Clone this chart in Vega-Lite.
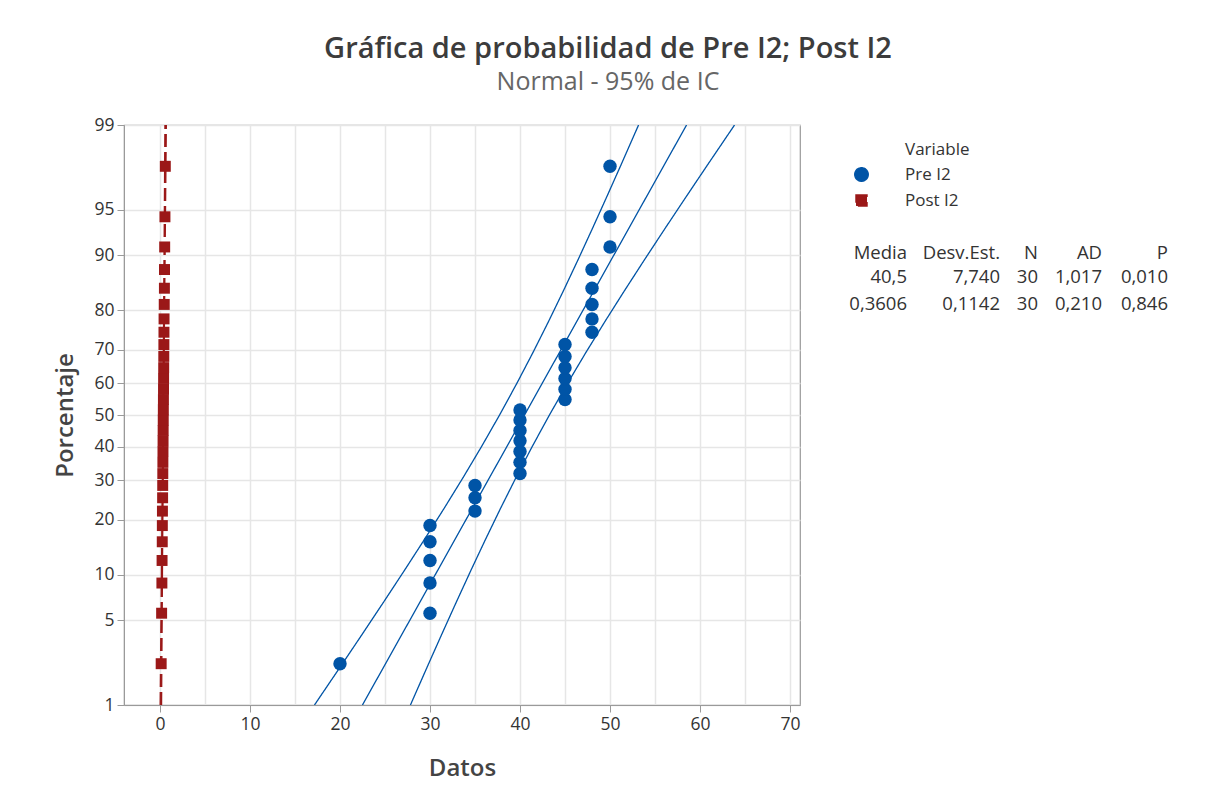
{
  "$schema": "https://vega.github.io/schema/vega-lite/v6.json",
  "autosize": "none",
  "width": 676,
  "height": 580,
  "padding": {"left": 124, "top": 125, "right": 405, "bottom": 97},
  "background": "white",
  "title": {
    "text": "Gráfica de probabilidad de Pre I2; Post I2",
    "subtitle": "Normal - 95% de IC",
    "anchor": "middle",
    "frame": "group",
    "dx": 146,
    "offset": 21,
    "font": "Open Sans",
    "fontSize": 29,
    "fontWeight": 600,
    "color": "#3c3c3c",
    "subtitleFont": "Open Sans",
    "subtitleFontSize": 25,
    "subtitleColor": "#666666",
    "subtitlePadding": 6
  },
  "datasets": {
    "pts": [
      {"Variable": "Pre I2", "Datos": 20, "Z": -1.995},
      {"Variable": "Pre I2", "Datos": 30, "Z": -1.590},
      {"Variable": "Pre I2", "Datos": 30, "Z": -1.348},
      {"Variable": "Pre I2", "Datos": 30, "Z": -1.167},
      {"Variable": "Pre I2", "Datos": 30, "Z": -1.017},
      {"Variable": "Pre I2", "Datos": 30, "Z": -0.887},
      {"Variable": "Pre I2", "Datos": 35, "Z": -0.771},
      {"Variable": "Pre I2", "Datos": 35, "Z": -0.664},
      {"Variable": "Pre I2", "Datos": 35, "Z": -0.565},
      {"Variable": "Pre I2", "Datos": 40, "Z": -0.470},
      {"Variable": "Pre I2", "Datos": 40, "Z": -0.380},
      {"Variable": "Pre I2", "Datos": 40, "Z": -0.293},
      {"Variable": "Pre I2", "Datos": 40, "Z": -0.207},
      {"Variable": "Pre I2", "Datos": 40, "Z": -0.124},
      {"Variable": "Pre I2", "Datos": 40, "Z": -0.041},
      {"Variable": "Pre I2", "Datos": 40, "Z": 0.041},
      {"Variable": "Pre I2", "Datos": 45, "Z": 0.124},
      {"Variable": "Pre I2", "Datos": 45, "Z": 0.207},
      {"Variable": "Pre I2", "Datos": 45, "Z": 0.293},
      {"Variable": "Pre I2", "Datos": 45, "Z": 0.380},
      {"Variable": "Pre I2", "Datos": 45, "Z": 0.470},
      {"Variable": "Pre I2", "Datos": 45, "Z": 0.565},
      {"Variable": "Pre I2", "Datos": 48, "Z": 0.664},
      {"Variable": "Pre I2", "Datos": 48, "Z": 0.771},
      {"Variable": "Pre I2", "Datos": 48, "Z": 0.887},
      {"Variable": "Pre I2", "Datos": 48, "Z": 1.017},
      {"Variable": "Pre I2", "Datos": 48, "Z": 1.167},
      {"Variable": "Pre I2", "Datos": 50, "Z": 1.348},
      {"Variable": "Pre I2", "Datos": 50, "Z": 1.590},
      {"Variable": "Pre I2", "Datos": 50, "Z": 1.995},
      {"Variable": "Post I2", "Datos": 0.13, "Z": -1.995},
      {"Variable": "Post I2", "Datos": 0.18, "Z": -1.590},
      {"Variable": "Post I2", "Datos": 0.21, "Z": -1.348},
      {"Variable": "Post I2", "Datos": 0.23, "Z": -1.167},
      {"Variable": "Post I2", "Datos": 0.25, "Z": -1.017},
      {"Variable": "Post I2", "Datos": 0.26, "Z": -0.887},
      {"Variable": "Post I2", "Datos": 0.27, "Z": -0.771},
      {"Variable": "Post I2", "Datos": 0.29, "Z": -0.664},
      {"Variable": "Post I2", "Datos": 0.30, "Z": -0.565},
      {"Variable": "Post I2", "Datos": 0.31, "Z": -0.470},
      {"Variable": "Post I2", "Datos": 0.32, "Z": -0.380},
      {"Variable": "Post I2", "Datos": 0.33, "Z": -0.293},
      {"Variable": "Post I2", "Datos": 0.34, "Z": -0.207},
      {"Variable": "Post I2", "Datos": 0.35, "Z": -0.124},
      {"Variable": "Post I2", "Datos": 0.36, "Z": -0.041},
      {"Variable": "Post I2", "Datos": 0.37, "Z": 0.041},
      {"Variable": "Post I2", "Datos": 0.38, "Z": 0.124},
      {"Variable": "Post I2", "Datos": 0.39, "Z": 0.207},
      {"Variable": "Post I2", "Datos": 0.40, "Z": 0.293},
      {"Variable": "Post I2", "Datos": 0.41, "Z": 0.380},
      {"Variable": "Post I2", "Datos": 0.42, "Z": 0.470},
      {"Variable": "Post I2", "Datos": 0.43, "Z": 0.565},
      {"Variable": "Post I2", "Datos": 0.44, "Z": 0.664},
      {"Variable": "Post I2", "Datos": 0.45, "Z": 0.771},
      {"Variable": "Post I2", "Datos": 0.47, "Z": 0.887},
      {"Variable": "Post I2", "Datos": 0.49, "Z": 1.017},
      {"Variable": "Post I2", "Datos": 0.50, "Z": 1.167},
      {"Variable": "Post I2", "Datos": 0.52, "Z": 1.348},
      {"Variable": "Post I2", "Datos": 0.55, "Z": 1.590},
      {"Variable": "Post I2", "Datos": 0.59, "Z": 1.995}
    ],
    "fit": [
      {"Variable": "Pre I2", "Curva": "ajuste", "Datos": 22.494, "Z": -2.3263},
      {"Variable": "Pre I2", "Curva": "ajuste", "Datos": 40.5, "Z": 0},
      {"Variable": "Pre I2", "Curva": "ajuste", "Datos": 58.506, "Z": 2.3263},
      {"Variable": "Pre I2", "Curva": "inf", "Datos": 17.163, "Z": -2.3263},
      {"Variable": "Pre I2", "Curva": "inf", "Datos": 20.223, "Z": -2},
      {"Variable": "Pre I2", "Curva": "inf", "Datos": 22.548, "Z": -1.75},
      {"Variable": "Pre I2", "Curva": "inf", "Datos": 24.852, "Z": -1.5},
      {"Variable": "Pre I2", "Curva": "inf", "Datos": 27.128, "Z": -1.25},
      {"Variable": "Pre I2", "Curva": "inf", "Datos": 29.368, "Z": -1},
      {"Variable": "Pre I2", "Curva": "inf", "Datos": 31.560, "Z": -0.75},
      {"Variable": "Pre I2", "Curva": "inf", "Datos": 33.692, "Z": -0.5},
      {"Variable": "Pre I2", "Curva": "inf", "Datos": 35.752, "Z": -0.25},
      {"Variable": "Pre I2", "Curva": "inf", "Datos": 37.730, "Z": 0},
      {"Variable": "Pre I2", "Curva": "inf", "Datos": 39.622, "Z": 0.25},
      {"Variable": "Pre I2", "Curva": "inf", "Datos": 41.432, "Z": 0.5},
      {"Variable": "Pre I2", "Curva": "inf", "Datos": 43.170, "Z": 0.75},
      {"Variable": "Pre I2", "Curva": "inf", "Datos": 44.848, "Z": 1},
      {"Variable": "Pre I2", "Curva": "inf", "Datos": 46.478, "Z": 1.25},
      {"Variable": "Pre I2", "Curva": "inf", "Datos": 48.072, "Z": 1.5},
      {"Variable": "Pre I2", "Curva": "inf", "Datos": 49.638, "Z": 1.75},
      {"Variable": "Pre I2", "Curva": "inf", "Datos": 51.183, "Z": 2},
      {"Variable": "Pre I2", "Curva": "inf", "Datos": 53.174, "Z": 2.3263},
      {"Variable": "Pre I2", "Curva": "sup", "Datos": 27.826, "Z": -2.3263},
      {"Variable": "Pre I2", "Curva": "sup", "Datos": 29.817, "Z": -2},
      {"Variable": "Pre I2", "Curva": "sup", "Datos": 31.362, "Z": -1.75},
      {"Variable": "Pre I2", "Curva": "sup", "Datos": 32.928, "Z": -1.5},
      {"Variable": "Pre I2", "Curva": "sup", "Datos": 34.522, "Z": -1.25},
      {"Variable": "Pre I2", "Curva": "sup", "Datos": 36.152, "Z": -1},
      {"Variable": "Pre I2", "Curva": "sup", "Datos": 37.830, "Z": -0.75},
      {"Variable": "Pre I2", "Curva": "sup", "Datos": 39.568, "Z": -0.5},
      {"Variable": "Pre I2", "Curva": "sup", "Datos": 41.378, "Z": -0.25},
      {"Variable": "Pre I2", "Curva": "sup", "Datos": 43.270, "Z": 0},
      {"Variable": "Pre I2", "Curva": "sup", "Datos": 45.248, "Z": 0.25},
      {"Variable": "Pre I2", "Curva": "sup", "Datos": 47.308, "Z": 0.5},
      {"Variable": "Pre I2", "Curva": "sup", "Datos": 49.440, "Z": 0.75},
      {"Variable": "Pre I2", "Curva": "sup", "Datos": 51.632, "Z": 1},
      {"Variable": "Pre I2", "Curva": "sup", "Datos": 53.872, "Z": 1.25},
      {"Variable": "Pre I2", "Curva": "sup", "Datos": 56.148, "Z": 1.5},
      {"Variable": "Pre I2", "Curva": "sup", "Datos": 58.452, "Z": 1.75},
      {"Variable": "Pre I2", "Curva": "sup", "Datos": 60.777, "Z": 2},
      {"Variable": "Pre I2", "Curva": "sup", "Datos": 63.838, "Z": 2.3263},
      {"Variable": "Post I2", "Curva": "ajuste", "Datos": 0.0949, "Z": -2.3263},
      {"Variable": "Post I2", "Curva": "ajuste", "Datos": 0.3606, "Z": 0},
      {"Variable": "Post I2", "Curva": "ajuste", "Datos": 0.6263, "Z": 2.3263},
      {"Variable": "Post I2", "Curva": "inf", "Datos": 0.0163, "Z": -2.3263},
      {"Variable": "Post I2", "Curva": "inf", "Datos": 0.1964, "Z": -1},
      {"Variable": "Post I2", "Curva": "inf", "Datos": 0.3197, "Z": 0},
      {"Variable": "Post I2", "Curva": "inf", "Datos": 0.4248, "Z": 1},
      {"Variable": "Post I2", "Curva": "inf", "Datos": 0.5476, "Z": 2.3263},
      {"Variable": "Post I2", "Curva": "sup", "Datos": 0.1736, "Z": -2.3263},
      {"Variable": "Post I2", "Curva": "sup", "Datos": 0.2965, "Z": -1},
      {"Variable": "Post I2", "Curva": "sup", "Datos": 0.4015, "Z": 0},
      {"Variable": "Post I2", "Curva": "sup", "Datos": 0.5249, "Z": 1},
      {"Variable": "Post I2", "Curva": "sup", "Datos": 0.7049, "Z": 2.3263}
    ],
    "stats": [
      {"fila": 0, "col": 0, "texto": "Media"},
      {"fila": 0, "col": 1, "texto": "Desv.Est."},
      {"fila": 0, "col": 2, "texto": "N"},
      {"fila": 0, "col": 3, "texto": "AD"},
      {"fila": 0, "col": 4, "texto": "P"},
      {"fila": 1, "col": 0, "texto": "40,5"},
      {"fila": 1, "col": 1, "texto": "7,740"},
      {"fila": 1, "col": 2, "texto": "30"},
      {"fila": 1, "col": 3, "texto": "1,017"},
      {"fila": 1, "col": 4, "texto": "0,010"},
      {"fila": 2, "col": 0, "texto": "0,3606"},
      {"fila": 2, "col": 1, "texto": "0,1142"},
      {"fila": 2, "col": 2, "texto": "30"},
      {"fila": 2, "col": 3, "texto": "0,210"},
      {"fila": 2, "col": 4, "texto": "0,846"}
    ]
  },
  "layer": [
    {
      "layer": [
        {
          "data": {"name": "fit"},
          "mark": {"type": "line", "strokeWidth": 1.3, "clip": true},
          "encoding": {
            "x": {"field": "Datos", "type": "quantitative"},
            "y": {"field": "Z", "type": "quantitative"},
            "detail": {"field": "Curva"},
            "order": {"field": "Z", "type": "quantitative"},
            "color": {
              "field": "Variable",
              "type": "nominal",
              "scale": {"domain": ["Pre I2", "Post I2"], "range": ["#0054a6", "#9b1818"]},
              "legend": {
                "orient": "none",
                "legendX": 781,
                "legendY": 17,
                "title": "Variable",
                "titleFont": "Open Sans",
                "titleFontSize": 17,
                "titleFontWeight": "normal",
                "titleColor": "#333333",
                "titlePadding": 7,
                "labelFont": "Open Sans",
                "labelFontSize": 17,
                "labelColor": "#333333",
                "labelOffset": 35,
                "symbolOffset": -52,
                "symbolStrokeWidth": 1.5,
                "rowPadding": 6,
                "padding": 0
              }
            },
            "strokeDash": {
              "field": "Variable",
              "type": "nominal",
              "scale": {"domain": ["Pre I2", "Post I2"], "range": [[1, 0], [13, 5]]},
              "legend": null
            }
          }
        },
        {
          "data": {"name": "pts"},
          "mark": {"type": "point", "filled": true, "opacity": 1, "clip": true},
          "encoding": {
            "x": {
              "field": "Datos",
              "type": "quantitative",
              "scale": {"domain": [-4, 71.11], "nice": false, "zero": false},
              "axis": {
                "title": "Datos",
                "values": [0, 5, 10, 15, 20, 25, 30, 35, 40, 45, 50, 55, 60, 65, 70],
                "labelExpr": "datum.value % 10 == 0 ? datum.label : ''",
                "tickOpacity": {"condition": {"test": "datum.value % 10 != 0", "value": 0}, "value": 1},
                "titlePadding": 24
              }
            },
            "y": {
              "field": "Z",
              "type": "quantitative",
              "scale": {"domain": [-2.3263, 2.3263], "nice": false, "zero": false},
              "axis": {
                "title": "Porcentaje",
                "values": [-2.3263, -1.6449, -1.2816, -0.8416, -0.5244, -0.2533, 0, 0.2533, 0.5244, 0.8416, 1.2816, 1.6449, 2.3263],
                "labelExpr": "datum.value < -2 ? '1' : datum.value < -1.5 ? '5' : datum.value < -1 ? '10' : datum.value < -0.7 ? '20' : datum.value < -0.4 ? '30' : datum.value < -0.1 ? '40' : datum.value < 0.1 ? '50' : datum.value < 0.4 ? '60' : datum.value < 0.7 ? '70' : datum.value < 1 ? '80' : datum.value < 1.5 ? '90' : datum.value < 2 ? '95' : '99'",
                "titlePadding": 16
              }
            },
            "color": {
              "field": "Variable",
              "type": "nominal"
            },
            "shape": {
              "field": "Variable",
              "type": "nominal",
              "scale": {"domain": ["Pre I2", "Post I2"], "range": ["circle", "square"]},
              "legend": null
            },
            "size": {
              "field": "Variable",
              "type": "nominal",
              "scale": {"domain": ["Pre I2", "Post I2"], "range": [180, 120]},
              "legend": null
            }
          }
        }
      ]
    },
    {
      "data": {"name": "stats"},
      "mark": {"type": "text", "align": "right", "baseline": "middle", "font": "Open Sans", "fontSize": 18.5, "color": "#333333"},
      "encoding": {
        "x": {
          "field": "col",
          "type": "quantitative",
          "scale": {"domain": [0, 1, 2, 3, 4], "range": [783, 876, 914, 978, 1044], "nice": false, "zero": false},
          "axis": null
        },
        "y": {
          "field": "fila",
          "type": "quantitative",
          "scale": {"domain": [0, 1, 2], "range": [128, 152, 179], "nice": false, "zero": false},
          "axis": null
        },
        "text": {"field": "texto"}
      }
    }
  ],
  "resolve": {"scale": {"x": "independent", "y": "independent"}},
  "config": {
    "view": {"stroke": "#9a9a9a", "strokeWidth": 1.2},
    "axis": {
      "labelFont": "Open Sans",
      "labelFontSize": 17.5,
      "labelColor": "#333333",
      "labelPadding": 3,
      "titleFont": "Open Sans",
      "titleFontSize": 24,
      "titleFontWeight": 600,
      "titleColor": "#444444",
      "domainColor": "#9a9a9a",
      "tickColor": "#9a9a9a",
      "tickSize": 7,
      "gridColor": "#e6e6e6",
      "gridWidth": 1.5
    }
  }
}
